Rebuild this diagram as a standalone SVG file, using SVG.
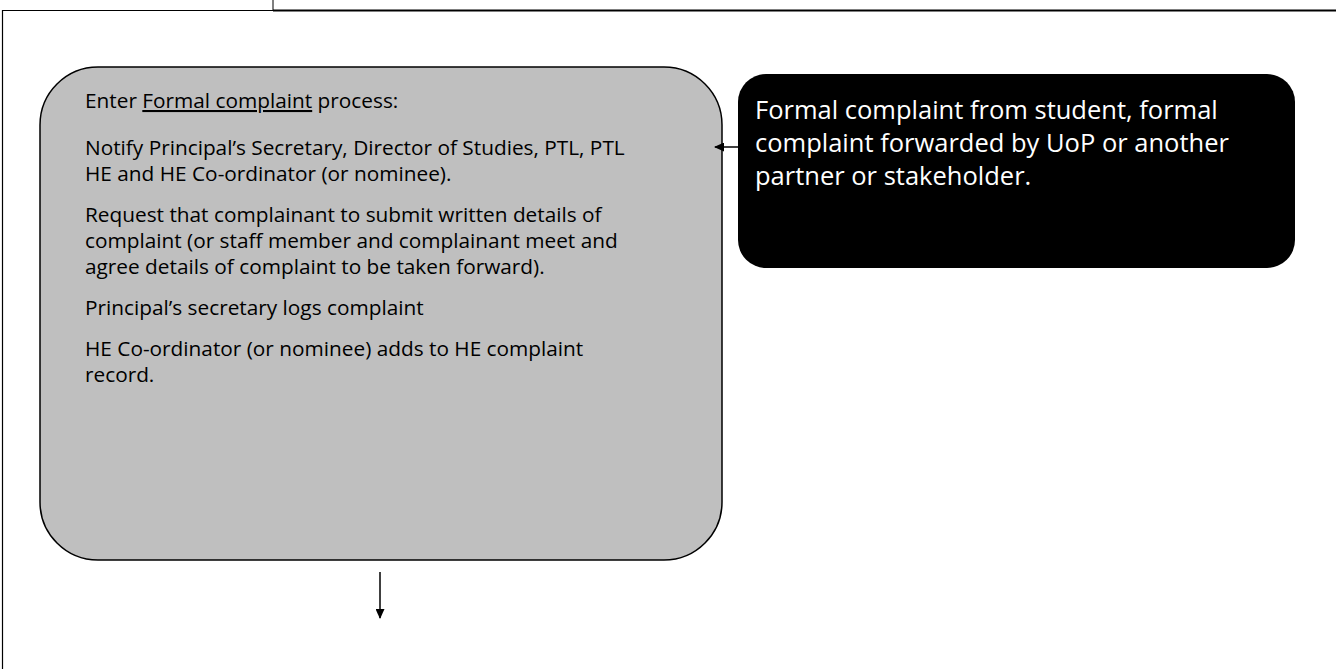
<svg xmlns="http://www.w3.org/2000/svg" width="1336" height="669" viewBox="0 0 1336 669">
<defs>
<marker id="ah" markerWidth="10" markerHeight="9" refX="9" refY="4.5" orient="auto" markerUnits="userSpaceOnUse">
<path d="M0,0 L10,4.5 L0,9 Z" fill="#000"/>
</marker>
<style>
.frame{stroke:#000;fill:none}
.gt{font-family:"Open Sans","Liberation Sans",sans-serif;font-size:20.8px;fill:#000}
.wt{font-family:"Open Sans","Liberation Sans",sans-serif;font-size:25.5px;fill:#fff}
.conn{stroke:#000;stroke-width:1.5;fill:none}
</style>
</defs>
<rect width="1336" height="669" fill="#fff"/>
<g id="frame">
<line class="frame" x1="2" y1="10.5" x2="273" y2="10.5" stroke-width="1.2"/>
<line class="frame" x1="273" y1="10.5" x2="1336" y2="10.5" stroke-width="2"/>
<line class="frame" x1="273" y1="0" x2="273" y2="10" stroke-width="1"/>
<line class="frame" x1="2.5" y1="10" x2="2.5" y2="669" stroke-width="1.2"/>
</g>
<g id="node-process">
<rect x="40" y="67" width="682" height="493" rx="58" ry="58" fill="#bfbfbf" stroke="#000" stroke-width="1.5"/>
<text class="gt" x="85" y="108">Enter <tspan text-decoration="underline">Formal complaint</tspan> process:</text>
<text class="gt" x="85" y="155">Notify Principal’s Secretary, Director of Studies, PTL, PTL</text>
<text class="gt" x="85" y="181">HE and HE Co-ordinator (or nominee).</text>
<text class="gt" x="85" y="222">Request that complainant to submit written details of</text>
<text class="gt" x="85" y="248">complaint (or staff member and complainant meet and</text>
<text class="gt" x="85" y="274">agree details of complaint to be taken forward).</text>
<text class="gt" x="85" y="315">Principal’s secretary logs complaint</text>
<text class="gt" x="85" y="356">HE Co-ordinator (or nominee) adds to HE complaint</text>
<text class="gt" x="85" y="382">record.</text>
</g>
<g id="node-source">
<rect x="738" y="74" width="557" height="194" rx="28" ry="28" fill="#000"/>
<text class="wt" x="755" y="119">Formal complaint from student, formal</text>
<text class="wt" x="755" y="152">complaint forwarded by UoP or another</text>
<text class="wt" x="755" y="185">partner or stakeholder.</text>
</g>
<g id="connectors">
<line class="conn" x1="738" y1="147" x2="715" y2="147" marker-end="url(#ah)"/>
<line class="conn" x1="380" y1="572" x2="380" y2="618" marker-end="url(#ah)"/>
</g>
</svg>
